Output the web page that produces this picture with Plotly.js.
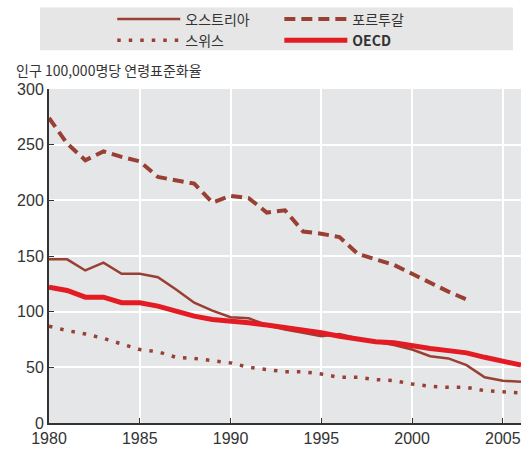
<!DOCTYPE html>
<html>
<head>
<meta charset="utf-8">
<script src="https://cdn.plot.ly/plotly-3.0.1.min.js"></script>
<style>
  html, body { margin: 0; padding: 0; background: #fff; }
  #chart { width: 524px; height: 453px; }
</style>
</head>
<body>
<div id="chart"></div>
<script>
// years 1980..2006
let years = [];
for (let y = 1980; y <= 2006; y++) years.push(y);

let austria = [147, 147, 137, 144, 134, 134, 131, 120, 108, 101, 95, 94, 88, 84, 81, 78, 80, 76, 73, 70, 66, 60, 58, 52, 41, 38, 37];
let portugal = [274, 251, 236, 244, 239, 235, 221, 218, 215, 198, 204, 202, 189, 191, 172, 170, 167, 152, 147, 142, 134, 126, 118, 111];
let swiss = [87, 83, 80, 76, 71, 66, 64, 59, 58, 56, 54, 50, 48, 46, 46, 44, 41, 41, 39, 38, 35, 33, 32, 32, 29, 28, 27];
let oecd = [122, 119, 113, 113, 108, 108, 105, 100, 96, 93, 92, 90, 88, 86, 83, 81, 78, 75, 73, 72, 69, 67, 65, 63, 59, 55, 52];

let names = ["오스트리아", "포르투갈", "스위스", "<b>OECD</b>"];
let xTicks = [1980, 1985, 1990, 1995, 2000, 2005];
let yTicks = [0, 50, 100, 150, 200, 250, 300];

const brown = "#9a3f33";
const red = "#e31b23";
const korean = "Noto Sans CJK KR, Liberation Sans";

let traces = [
  { x: years, y: austria, name: names[0], mode: "lines", legend: "legend",
    line: { color: brown, width: 2.5 } },
  { x: years.slice(0, portugal.length), y: portugal, name: names[1], mode: "lines", legend: "legend2",
    line: { color: brown, width: 4, dash: "11px,6px" } },
  { x: years, y: swiss, name: names[2], mode: "lines", legend: "legend",
    line: { color: brown, width: 3.5, dash: "3.5px,8px" } },
  { x: years, y: oecd, name: names[3], mode: "lines", legend: "legend2",
    line: { color: red, width: 5 } }
];

let legendBase = {
  orientation: "v",
  xanchor: "left",
  y: 1.256, yanchor: "top",
  itemwidth: 63,
  bgcolor: "rgba(0,0,0,0)",
  font: { family: korean, size: 14, color: "#333" },
  traceorder: "normal",
  tracegroupgap: 0
};

let layout = {
  width: 524,
  height: 453,
  margin: { l: 49, r: 3, t: 87, b: 30 },
  paper_bgcolor: "#ffffff",
  plot_bgcolor: "#e5e6e8",
  font: { family: "Liberation Sans Narrow, Liberation Sans, Arial", size: 16, color: "#333" },
  showlegend: true,
  legend: Object.assign({}, legendBase, { x: 0.134 }),
  legend2: Object.assign({}, legendBase, { x: 0.488 }),
  xaxis: {
    range: [1980, 2006],
    tickvals: xTicks,
    ticks: "inside", ticklen: 5, tickcolor: "#333", tickwidth: 1,
    showgrid: true, gridcolor: "#ffffff", gridwidth: 2,
    showline: true, linecolor: "#333", linewidth: 2,
    zeroline: false
  },
  yaxis: {
    range: [0, 300],
    tickvals: yTicks,
    ticks: "inside", ticklen: 5, tickcolor: "#333", tickwidth: 1,
    showgrid: true, gridcolor: "#ffffff", gridwidth: 2,
    showline: true, linecolor: "#333", linewidth: 2,
    zeroline: false
  },
  shapes: [
    { type: "rect", xref: "paper", yref: "paper",
      x0: -0.019, x1: 0.983, y0: 1.116, y1: 1.244,
      fillcolor: "#e6e6e6", line: { width: 0 }, layer: "below" }
  ],
  annotations: [
    { text: "인구 100,000명당 연령표준화율", xref: "paper", yref: "paper",
      x: -0.074, y: 1.057, xanchor: "left", yanchor: "middle", showarrow: false,
      font: { family: korean, size: 14, color: "#333" } }
  ]
};

Plotly.newPlot("chart", traces, layout, { displayModeBar: false, staticPlot: true });
</script>
</body>
</html>
